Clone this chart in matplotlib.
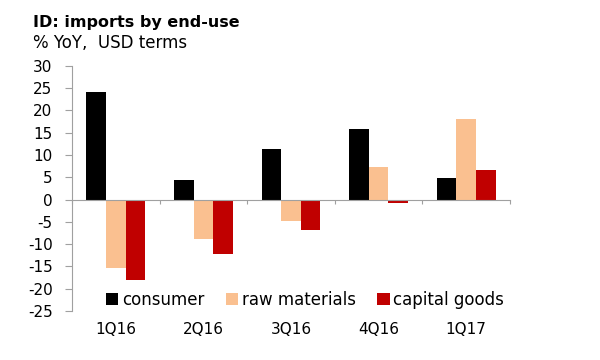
import numpy as np
import matplotlib
matplotlib.use("Agg")
import matplotlib.pyplot as plt
import matplotlib.transforms as mtransforms

quarters = ["1Q16", "2Q16", "3Q16", "4Q16", "1Q17"]
consumer = [24.2, 4.3, 11.3, 15.8, 4.9]
raw_materials = [-15.3, -8.8, -4.7, 7.4, 18.1]
capital_goods = [-18.0, -12.2, -6.9, -0.7, 6.6]

series = [
    ("consumer", consumer, "#000000"),
    ("raw materials", raw_materials, "#FAC090"),
    ("capital goods", capital_goods, "#C00000"),
]

plt.rcParams["font.family"] = "DejaVu Sans"
plt.rcParams["axes.unicode_minus"] = False

fig = plt.figure(figsize=(6, 3.6), dpi=100)
ax = fig.add_axes([0.12, 0.136, 0.73, 0.681])

x = np.arange(len(quarters))
w = 0.223
for i, (name, vals, col) in enumerate(series):
    ax.bar(x + (i - 1) * w, vals, width=w, color=col, label=name, zorder=2)

ax.set_xlim(-0.5, len(quarters) - 0.5)
ax.set_ylim(-25, 30)
ax.set_yticks(np.arange(-25, 31, 5))
ax.tick_params(axis="y", direction="out", length=5, color="#A0A0A0",
               labelsize=11, pad=9)

for s in ["top", "right"]:
    ax.spines[s].set_visible(False)
ax.spines["left"].set_color("#A0A0A0")
ax.spines["bottom"].set_position(("data", 0))
ax.spines["bottom"].set_color("#A0A0A0")
ax.spines["bottom"].set_zorder(3)

ax.set_xticks(np.arange(len(quarters) + 1) - 0.5)
ax.set_xticklabels([])
ax.tick_params(axis="x", direction="out", length=3, color="#A0A0A0")

trans = mtransforms.blended_transform_factory(ax.transData, ax.transAxes)
for xi, q in zip(x, quarters):
    ax.text(xi, -0.045, q, transform=trans, ha="center", va="top", fontsize=11)

leg = ax.legend(loc="center", bbox_to_anchor=(305 / 600, 1 - 300 / 360),
                bbox_transform=fig.transFigure, ncol=3, frameon=False,
                fontsize=12, handlelength=0.75, handleheight=0.75,
                handletextpad=0.2, columnspacing=1.3, borderaxespad=0)

fig.text(33 / 600, 1 - 22 / 360, "ID: imports by end-use", fontsize=11.5,
         fontweight="bold", ha="left", va="center")
fig.text(33 / 600, 1 - 43 / 360, "% YoY,  USD terms", fontsize=12,
         ha="left", va="center")

fig.savefig("out.png", dpi=100)
